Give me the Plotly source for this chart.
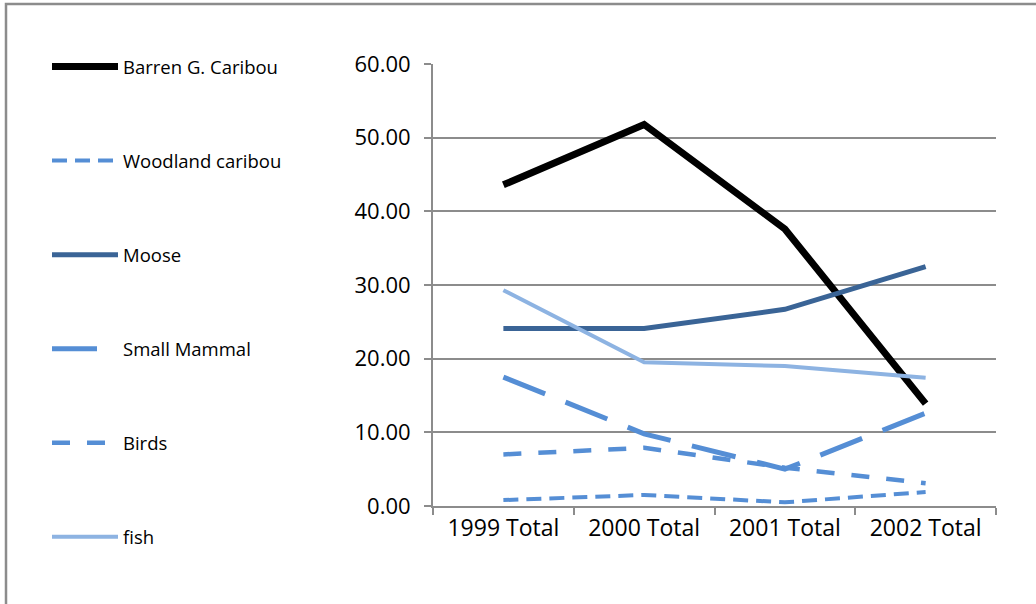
import plotly.graph_objects as go

# Category labels along the x axis
years = ["1999 Total", "2000 Total", "2001 Total", "2002 Total"]

# Series values per year
barren_g_caribou = [43.6, 51.8, 37.6, 13.9]
woodland_caribou = [0.8, 1.5, 0.5, 1.9]
moose = [24.1, 24.1, 26.7, 32.5]
small_mammal = [17.5, 9.8, 5.0, 12.6]
birds = [7.0, 7.9, 5.2, 3.1]
fish = [29.3, 19.5, 19.0, 17.4]

series = [
    ("Barren G. Caribou", barren_g_caribou, "#000000", 7, "solid"),
    ("Woodland caribou", woodland_caribou, "#558ED5", 4, "15px,8px"),
    ("Moose", moose, "#3A6496", 5, "solid"),
    ("Small Mammal", small_mammal, "#558ED5", 5, "45px,22px"),
    ("Birds", birds, "#558ED5", 4.5, "18px,17px"),
    ("fish", fish, "#8DB3E2", 4, "solid"),
]

fig = go.Figure()
for name, vals, color, width, dash in series:
    fig.add_trace(go.Scatter(
        x=years, y=vals, mode="lines", name=name,
        legendgroup=name,
        line=dict(color=color, width=width, dash=dash),
    ))

W, H = 1036, 604
L, R, T, B = 433, 40, 64, 98
pw, ph = W - L - R, H - T - B

def px_x(x):
    return (x - L) / pw

def px_y(y):
    return (H - B - y) / ph

grid = "#8C8C8C"

fig.update_layout(
    width=W, height=H,
    margin=dict(l=L, r=R, t=T, b=B),
    paper_bgcolor="white", plot_bgcolor="white",
    font=dict(family="Open Sans", color="#000000"),
    showlegend=True,
    legend=dict(
        x=px_x(47), y=px_y(48), xanchor="left", yanchor="top",
        font=dict(size=18.5, family="Open Sans", color="#000000"),
        tracegroupgap=67, itemwidth=66, maxheight=1,
        bgcolor="rgba(0,0,0,0)",
    ),
    xaxis=dict(
        type="category", range=[-0.5, 3.5],
        showgrid=False, showline=True, linecolor=grid, linewidth=2,
        ticks="outside", ticklen=7, tickcolor=grid, tickwidth=2,
        tickson="boundaries",
        tickfont=dict(size=23, family="Open Sans", color="#000000"),
        fixedrange=True,
    ),
    yaxis=dict(
        range=[0, 60], dtick=10, tickformat=".2f",
        showgrid=True, gridcolor=grid, gridwidth=2,
        showline=True, linecolor=grid, linewidth=2,
        ticks="outside", ticklen=7, tickcolor=grid, tickwidth=2,
        tickfont=dict(size=22, family="Open Sans", color="#000000"),
        ticklabelstandoff=9,
        zeroline=False, fixedrange=True,
    ),
    shapes=[dict(
        type="rect", xref="paper", yref="paper",
        x0=px_x(6), x1=px_x(1045), y0=px_y(4), y1=px_y(615),
        line=dict(color="#8C8C8C", width=2.5), layer="below",
    )],
)

fig.write_html("out.html")
